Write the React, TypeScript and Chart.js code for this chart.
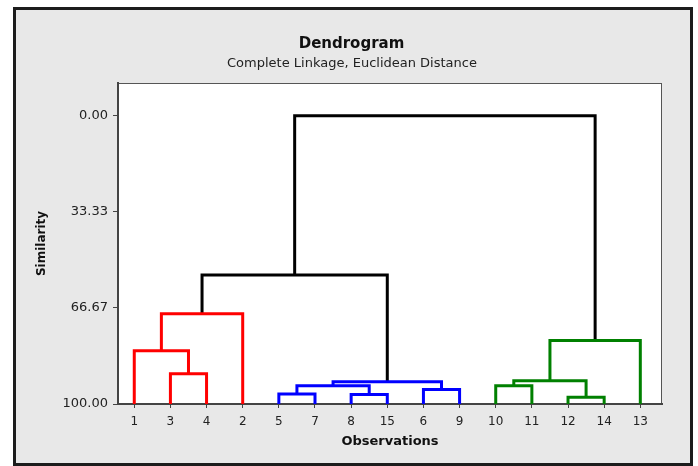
import React, { useEffect, useRef } from 'react';
import { Chart, registerables } from 'chart.js';

Chart.register(...registerables);

// ---- Data ----
const observations = ['1', '3', '4', '2', '5', '7', '8', '15', '6', '9', '10', '11', '12', '14', '13'];
// Node ids: 0..14 are leaves (position in `observations`), 15+ are merges in order below
const mergeLeft = [1, 0, 16, 4, 6, 8, 18, 21, 10, 12, 23, 25, 17, 27];
const mergeRight = [2, 15, 3, 5, 7, 9, 19, 20, 11, 13, 24, 14, 22, 26];
const mergeSimilarity = [89.5, 81.5, 68.7, 96.5, 96.7, 95.0, 93.7, 92.3, 93.7, 97.7, 91.9, 78.0, 55.2, 0.0];
const mergeColors = [
  '#ff0000', '#ff0000', '#ff0000',
  '#0000ff', '#0000ff', '#0000ff', '#0000ff', '#0000ff',
  '#008000', '#008000', '#008000', '#008000',
  '#000000', '#000000',
];
const leafSimilarity = 100;
const yTickValues = [0, 33.33, 66.67, 100];

const titleText = 'Dendrogram';
const subtitleText = 'Complete Linkage, Euclidean Distance';
const xTitle = 'Observations';
const yTitle = 'Similarity';

const FONT = "'DejaVu Sans', Verdana, sans-serif";

function buildDatasets() {
  const nodeX: number[] = observations.map((_, i) => i + 1);
  const nodeH: number[] = observations.map(() => leafSimilarity);
  const datasets: any[] = [];
  mergeLeft.forEach((l, k) => {
    const r = mergeRight[k];
    const h = mergeSimilarity[k];
    datasets.push({
      data: [
        { x: nodeX[l], y: nodeH[l] },
        { x: nodeX[l], y: h },
        { x: nodeX[r], y: h },
        { x: nodeX[r], y: nodeH[r] },
      ],
      borderColor: mergeColors[k],
      backgroundColor: mergeColors[k],
      borderWidth: 3,
      showLine: true,
      pointRadius: 0,
      fill: false,
      tension: 0,
      borderJoinStyle: 'miter',
      borderCapStyle: 'butt',
    });
    nodeX.push((nodeX[l] + nodeX[r]) / 2);
    nodeH.push(h);
  });
  return datasets;
}

const framePlugin = {
  id: 'frame',
  beforeDraw(chart: any) {
    const { ctx, chartArea } = chart;
    ctx.save();
    ctx.fillStyle = '#ffffff';
    ctx.fillRect(0, 0, chart.width, chart.height);
    ctx.fillStyle = '#e8e8e8';
    ctx.fillRect(13, 7, 680, 459);
    ctx.strokeStyle = '#1c1c1c';
    ctx.lineWidth = 3;
    ctx.strokeRect(14.5, 8.5, 677, 456);
    ctx.fillStyle = '#ffffff';
    ctx.fillRect(chartArea.left, chartArea.top, chartArea.right - chartArea.left, chartArea.bottom - chartArea.top);
    ctx.strokeStyle = '#555555';
    ctx.lineWidth = 1;
    ctx.strokeRect(chartArea.left + 0.5, chartArea.top + 0.5, chartArea.right - chartArea.left - 1, chartArea.bottom - chartArea.top - 1);
    ctx.restore();
  },
  afterDraw(chart: any) {
    const { ctx } = chart;
    ctx.save();
    ctx.textAlign = 'center';
    ctx.textBaseline = 'alphabetic';
    ctx.fillStyle = '#111111';
    ctx.font = `bold 15px ${FONT}`;
    ctx.fillText(titleText, 351.5, 48);
    ctx.font = `13px ${FONT}`;
    ctx.fillStyle = '#222222';
    ctx.fillText(subtitleText, 352, 67);
    ctx.restore();
  },
};

export default function App() {
  const ref = useRef<HTMLCanvasElement>(null);
  useEffect(() => {
    document.body.style.margin = '0';
    const chart = new Chart(ref.current as HTMLCanvasElement, {
      type: 'scatter',
      data: { datasets: buildDatasets() },
      plugins: [framePlugin],
      options: {
        animation: false,
        responsive: false,
        devicePixelRatio: 1,
        layout: { padding: { top: 83, right: 36, left: 0, bottom: 0 } },
        plugins: {
          legend: { display: false },
          tooltip: { enabled: false },
        },
        scales: {
          x: {
            type: 'linear',
            position: 'bottom',
            min: 0.55,
            max: 15.6,
            afterFit: (scale: any) => { scale.height = 62; },
            afterBuildTicks: (scale: any) => {
              scale.ticks = observations.map((_, i) => ({ value: i + 1 }));
            },
            ticks: {
              autoSkip: false,
              maxRotation: 0,
              padding: 7,
              color: '#222222',
              font: { family: FONT, size: 12 },
              callback: (_v: any, i: number) => observations[i],
            },
            grid: { drawOnChartArea: false, drawTicks: true, tickLength: 4, color: '#444444' },
            border: { display: true, color: '#444444', width: 2 },
            title: {
              display: true,
              text: xTitle,
              color: '#111111',
              font: { family: FONT, size: 13, weight: 'bold' },
              padding: { top: 0, bottom: 17 },
            },
          },
          y: {
            type: 'linear',
            position: 'left',
            reverse: true,
            min: -11.4,
            max: 100,
            afterFit: (scale: any) => { scale.width = 118; },
            afterBuildTicks: (scale: any) => {
              scale.ticks = yTickValues.map((v) => ({ value: v }));
            },
            ticks: {
              padding: 5,
              color: '#222222',
              font: { family: FONT, size: 13 },
              callback: (v: any) => Number(v).toFixed(2),
            },
            grid: { drawOnChartArea: false, drawTicks: true, tickLength: 5, color: '#444444' },
            border: { display: true, color: '#444444', width: 2 },
            title: {
              display: true,
              text: yTitle,
              color: '#111111',
              font: { family: FONT, size: 12, weight: 'bold' },
              padding: { top: 35, bottom: 0 },
            },
          },
        },
      } as any,
    });
    return () => chart.destroy();
  }, []);
  return (
    <div style={{ width: 698, height: 466 }}>
      <canvas ref={ref} width={698} height={466} style={{ display: 'block' }} />
    </div>
  );
}
